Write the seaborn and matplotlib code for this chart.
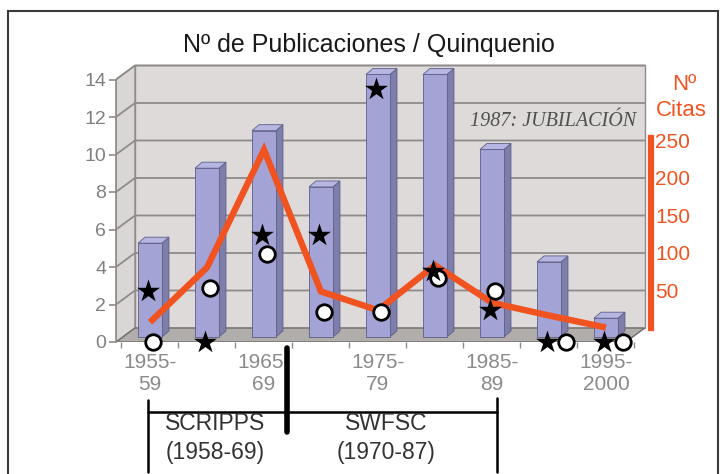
import numpy as np
import pandas as pd
import matplotlib
matplotlib.use("Agg")
import matplotlib.pyplot as plt
import seaborn as sns
from matplotlib.patches import Polygon, Rectangle
from matplotlib.lines import Line2D

# data
periodos = ["1955-59", "1960-64", "1965-69", "1970-74", "1975-79",
            "1980-84", "1985-89", "1990-94", "1995-2000"]
publicaciones = [5, 9, 11, 8, 14, 14, 10, 4, 1]
citas = [7, 80, 237, 48, 23, 83, 33, 16, 0]
estrellas = [2.7, 0, 5.7, 5.7, 13.5, 3.8, 1.7, 0, 0]
circulos = [0, 2.9, 4.7, 1.6, 1.6, 3.4, 2.7, 0, 0]
xtick_labels = ["1955-\n59", "1965-\n69", "1975-\n79", "1985-\n89", "1995-\n2000"]
pub_ticks = [0, 2, 4, 6, 8, 10, 12, 14]
cit_ticks = [50, 100, 150, 200, 250]

RED = "#f0531f"
GRID = "#8e8b8a"
W, H = 720, 474

sns.set_style("white")
plt.rcParams["font.family"] = ["Liberation Sans", "DejaVu Sans"]

df = pd.DataFrame({"periodo": periodos, "pub": publicaciones, "citas": citas})


def px(x, y):
    return (x / W, 1 - y / H)


fig = plt.figure(figsize=(7.2, 4.74), dpi=100)
ax = fig.add_axes([116 / W, (H - 342) / H, 535 / W, 282 / H])

XL, XR = -0.596, 8.79
DX, DY = 0.333, 0.747          # depth of the 3d box
FR, BR = 8.35, 8.68            # right edge of floor (front / back)
TOP = 14

# walls and floor
ax.add_patch(Polygon([(XL + DX, DY), (BR, DY), (BR, TOP + DY), (XL + DX, TOP + DY)],
                     closed=True, fc="#dddad9", ec=GRID, lw=1.0, zorder=0.5))
ax.add_patch(Polygon([(XL, 0), (XL + DX, DY), (XL + DX, TOP + DY), (XL, TOP)],
                     closed=True, fc="#d9d6d5", ec=GRID, lw=1.0, zorder=0.5))
ax.add_patch(Polygon([(XL, 0), (FR, 0), (BR, DY), (XL + DX, DY)],
                     closed=True, fc="#b0adab", ec="#6f6c6b", lw=1.0, zorder=0.6))
for v in pub_ticks[1:]:
    ax.plot([XL, XL + DX, BR], [v, v + DY, v + DY], color=GRID, lw=1.3, zorder=0.8)

# bars with a bit of depth
sns.barplot(data=df, x="periodo", y="pub", color="#a3a3d6", width=0.42,
            edgecolor="#5d5d86", linewidth=0.6, saturation=1, ax=ax, zorder=3)
LIFT, bdx, bdy = 0.27, 0.123, 0.32
for p in ax.containers[0].patches:
    x0, w, h = p.get_x(), p.get_width(), p.get_height()
    p.set_y(LIFT)
    ax.add_patch(Polygon([(x0 + w, LIFT), (x0 + w + bdx, LIFT + bdy),
                          (x0 + w + bdx, LIFT + h + bdy), (x0 + w, LIFT + h)],
                         closed=True, fc="#7e7eab", ec="#5d5d86", lw=0.6, zorder=2.9))
    ax.add_patch(Polygon([(x0, LIFT + h), (x0 + w, LIFT + h),
                          (x0 + w + bdx, LIFT + h + bdy), (x0 + bdx, LIFT + h + bdy)],
                         closed=True, fc="#b6b6e2", ec="#5d5d86", lw=0.6, zorder=2.9))

ax.set_xlim(XL, XR)
ax.set_ylim(0, 15.04)
ax.set_xlabel("")
ax.set_ylabel("")
for s in ["top", "right", "bottom"]:
    ax.spines[s].set_visible(False)
ax.spines["left"].set_bounds(0, TOP)
ax.spines["left"].set_color(GRID)
ax.spines["left"].set_linewidth(1.2)
ax.set_yticks(pub_ticks)
ax.tick_params(axis="y", direction="out", length=5, width=1.2, color=GRID,
               labelsize=14, labelcolor="#808080", pad=2, left=True)
ax.set_xticks([0, 2, 4, 6, 8])
ax.set_xticklabels(xtick_labels)
ax.set_xticks(np.arange(-0.5, 9, 1), minor=True)
ax.tick_params(axis="x", which="major", length=0, pad=8, labelsize=15,
               labelcolor="#8a8a8a")
ax.tick_params(axis="x", which="minor", length=4, width=1, color=GRID, bottom=True)

# citations on the right red axis
ax2 = ax.twinx()
sns.lineplot(x=np.arange(len(periodos)), y=citas, ax=ax2, color=RED, linewidth=4.6,
             solid_capstyle="butt", solid_joinstyle="miter", zorder=4)
ax2.set_ylim(-19.33, 356.67)
ax2.set_yticks(cit_ticks)
ax2.set_ylabel("")
for s in ["top", "left", "bottom"]:
    ax2.spines[s].set_visible(False)
ax2.spines["right"].set_color(RED)
ax2.spines["right"].set_linewidth(4.5)
ax2.spines["right"].set_bounds(0, 253)
ax2.tick_params(axis="y", length=0, pad=3, labelsize=15, labelcolor=RED)

# star / circle marks
ax3 = ax.twinx()
ax3.set_ylim(ax.get_ylim())
ax3.axis("off")
xs = np.arange(len(periodos))
both_zero = (np.array(estrellas) == 0) & (np.array(circulos) == 0)
sns.scatterplot(x=xs - 0.03, y=estrellas, marker="*", s=300, color="black",
                linewidth=0, ax=ax3, clip_on=False, zorder=6)
sns.scatterplot(x=xs + np.where(both_zero, 0.3, 0.05), y=circulos, marker="o", s=125,
                facecolor="white", edgecolor="black", linewidth=2, ax=ax3,
                clip_on=False, zorder=5)
ax3.set_xlim(XL, XR)

# texts
fig.text(*px(369, 45), "Nº de Publicaciones / Quinquenio", fontsize=18,
         ha="center", va="center", color="#1a1a1a")
fig.text(*px(553, 121), "1987: JUBILACIÓN", fontsize=14.5, style="italic",
         family=["Liberation Serif", "DejaVu Serif"], ha="center", va="center",
         color="#505050")
fig.text(*px(684, 85), "Nº", fontsize=16, color=RED, ha="center", va="center")
fig.text(*px(681, 111), "Citas", fontsize=16, color=RED, ha="center", va="center")

# institution bracket
def seg(x1, y1, x2, y2, lw=1.8):
    fig.add_artist(Line2D([x1 / W, x2 / W], [1 - y1 / H, 1 - y2 / H],
                          transform=fig.transFigure, color="black", lw=lw))

seg(148, 412, 497, 412)
seg(148, 400, 148, 472)
seg(497, 398, 497, 472)
seg(287, 348, 287, 432, lw=4)
fig.text(*px(215, 423), "SCRIPPS", fontsize=16.5, ha="center", va="center", color="#333333")
fig.text(*px(215, 452), "(1958-69)", fontsize=16.5, ha="center", va="center", color="#333333")
fig.text(*px(386, 423), "SWFSC", fontsize=16.5, ha="center", va="center", color="#333333")
fig.text(*px(386, 452), "(1970-87)", fontsize=16.5, ha="center", va="center", color="#333333")

# outer frame
fig.add_artist(Rectangle((8 / W, -0.01), 710 / W, (H - 11) / H + 0.01,
                         transform=fig.transFigure, fill=False, ec="#3a3a3a", lw=1.5))

fig.savefig("out.png", dpi=100)
